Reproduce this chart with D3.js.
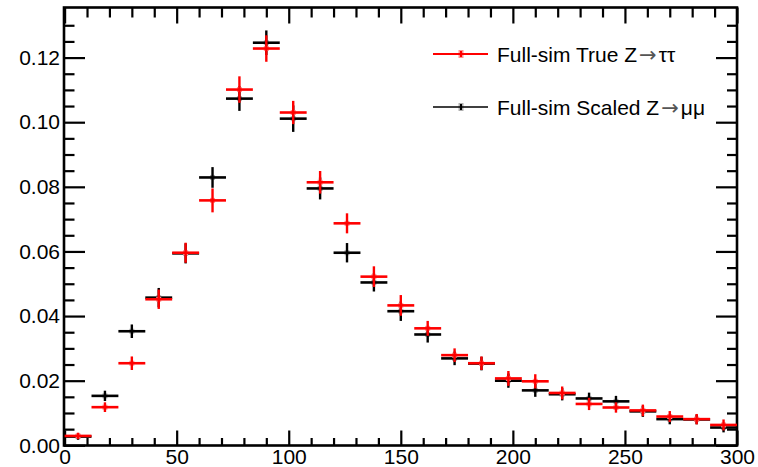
<!DOCTYPE html>
<html>
<head>
<meta charset="utf-8">
<script src="https://cdn.jsdelivr.net/npm/d3@7"></script>
<style>
  html, body { margin: 0; padding: 0; background: #fff; }
  svg { display: block; font-family: "Liberation Sans", Arial, Helvetica, sans-serif; }
</style>
</head>
<body>
<svg id="chart" width="758" height="467"></svg>
<script>
// Histogram bin edges (GeV)
const binEdges = [0, 12, 24, 36, 48, 60, 72, 84, 96, 108, 120, 132, 144, 156, 168,
                  180, 192, 204, 216, 228, 240, 252, 264, 276, 288, 300];

// Full-sim True Z->tautau (normalised)
const trueTauTau = [0.0029, 0.0118, 0.0254, 0.0452, 0.0596, 0.0758, 0.1101, 0.1228, 0.1030,
                    0.0814, 0.0687, 0.0522, 0.0433, 0.0362, 0.0279, 0.0254, 0.0207, 0.0198,
                    0.0162, 0.0128, 0.0117, 0.0108, 0.0089, 0.0081, 0.0063];
const trueTauTauErr = [0.0010, 0.0015, 0.0021, 0.0030, 0.0031, 0.0037, 0.0041, 0.0041, 0.0036,
                       0.0035, 0.0031, 0.0032, 0.0032, 0.0023, 0.0021, 0.0021, 0.0023, 0.0022,
                       0.0020, 0.0019, 0.0016, 0.0018, 0.0017, 0.0016, 0.0017];

// Full-sim Scaled Z->mumu (normalised)
const scaledMuMu = [0.0027, 0.0153, 0.0353, 0.0457, 0.0594, 0.0829, 0.1073, 0.1246, 0.1011,
                    0.0795, 0.0596, 0.0504, 0.0415, 0.0343, 0.0269, 0.0253, 0.0200, 0.0170,
                    0.0158, 0.0145, 0.0136, 0.0105, 0.0081, 0.0080, 0.0055];
const scaledMuMuErr = [0.0010, 0.0016, 0.0021, 0.0030, 0.0031, 0.0032, 0.0038, 0.0038, 0.0041,
                       0.0034, 0.0030, 0.0028, 0.0030, 0.0025, 0.0021, 0.0021, 0.0022, 0.0020,
                       0.0019, 0.0018, 0.0017, 0.0017, 0.0016, 0.0015, 0.0015];

// Axis ticks
const xMajorTicks = [0, 50, 100, 150, 200, 250, 300];
const xMinorTicks = [10, 20, 30, 40, 60, 70, 80, 90, 110, 120, 130, 140, 160, 170, 180, 190,
                     210, 220, 230, 240, 260, 270, 280, 290];
const yMajorTicks = [0, 0.02, 0.04, 0.06, 0.08, 0.10, 0.12];
const yMinorTicks = [0.005, 0.01, 0.015, 0.025, 0.03, 0.035, 0.045, 0.05, 0.055, 0.065, 0.07,
                     0.075, 0.085, 0.09, 0.095, 0.105, 0.11, 0.115, 0.125, 0.13];

// Legend entries: text before the arrow, arrow, decay products
const seriesNames = [["Full-sim True Z", "\u2192", "\u03c4\u03c4"],
                     ["Full-sim Scaled Z", "\u2192", "\u03bc\u03bc"]];
const seriesColors = ["#ff0000", "#000000"];

const svg = d3.select("#chart");

const frame = { left: 64, right: 737, top: 7.5, bottom: 445.5 };
const x = d3.scaleLinear().domain([0, 300]).range([64.6, 737]);
const y = d3.scaleLinear().domain([0, 0.1355]).range([445.3, 7.5]);

const fontSize = 21;

// --- frame and axes ---
function styleAxis(g) {
  g.select(".domain").remove();
  g.selectAll(".tick line").attr("stroke", "#000").attr("stroke-width", 2.2);
  g.selectAll(".tick text").attr("fill", "#000").attr("font-size", fontSize)
    .attr("font-family", "\"Liberation Sans\", Arial, sans-serif");
}

// bottom
svg.append("g").attr("transform", `translate(0,${frame.bottom})`)
  .call(d3.axisBottom(x).tickValues(xMajorTicks).tickSize(-15).tickPadding(4).tickFormat(d3.format("d")))
  .call(styleAxis);
svg.append("g").attr("transform", `translate(0,${frame.bottom})`)
  .call(d3.axisBottom(x).tickValues(xMinorTicks).tickSize(-7.5).tickFormat(""))
  .call(styleAxis);
// top (mirrored ticks)
svg.append("g").attr("transform", `translate(0,${frame.top})`)
  .call(d3.axisTop(x).tickValues(xMajorTicks).tickSize(-16).tickFormat(""))
  .call(styleAxis);
svg.append("g").attr("transform", `translate(0,${frame.top})`)
  .call(d3.axisTop(x).tickValues(xMinorTicks).tickSize(-10).tickFormat(""))
  .call(styleAxis);
// left
svg.append("g").attr("transform", `translate(${frame.left},0)`)
  .call(d3.axisLeft(y).tickValues(yMajorTicks).tickSize(-21).tickPadding(4).tickFormat(d3.format(".2f")))
  .call(styleAxis);
svg.append("g").attr("transform", `translate(${frame.left},0)`)
  .call(d3.axisLeft(y).tickValues(yMinorTicks).tickSize(-10.5).tickFormat(""))
  .call(styleAxis);
// right (mirrored ticks)
svg.append("g").attr("transform", `translate(${frame.right},0)`)
  .call(d3.axisRight(y).tickValues(yMajorTicks).tickSize(-21).tickFormat(""))
  .call(styleAxis);
svg.append("g").attr("transform", `translate(${frame.right},0)`)
  .call(d3.axisRight(y).tickValues(yMinorTicks).tickSize(-10).tickFormat(""))
  .call(styleAxis);

svg.append("rect")
  .attr("x", frame.left).attr("y", frame.top)
  .attr("width", frame.right - frame.left).attr("height", frame.bottom - frame.top)
  .attr("fill", "none").attr("stroke", "#000").attr("stroke-width", 2.6);

// --- histogram points with error bars ---
function drawSeries(values, errors, color, markerFill) {
  const bins = values.map((v, i) => ({
    lo: binEdges[i], hi: binEdges[i + 1], mid: (binEdges[i] + binEdges[i + 1]) / 2, v, e: errors[i]
  }));
  const g = svg.append("g");
  g.selectAll("rect.marker").data(bins).join("rect")
    .attr("class", "marker")
    .attr("x", d => x(d.mid) - 2.5).attr("y", d => y(d.v) - 2.5)
    .attr("width", 5).attr("height", 5)
    .attr("fill", markerFill);
  g.selectAll("line.xerr").data(bins).join("line")
    .attr("class", "xerr")
    .attr("x1", d => x(d.lo)).attr("x2", d => x(d.hi))
    .attr("y1", d => y(d.v)).attr("y2", d => y(d.v))
    .attr("stroke", color).attr("stroke-width", 2.6);
  g.selectAll("line.yerr").data(bins).join("line")
    .attr("class", "yerr")
    .attr("x1", d => x(d.mid)).attr("x2", d => x(d.mid))
    .attr("y1", d => y(Math.max(0, d.v - d.e))).attr("y2", d => y(d.v + d.e))
    .attr("stroke", color).attr("stroke-width", 2.4);
}

drawSeries(scaledMuMu, scaledMuMuErr, seriesColors[1], "#b0b0b0");
drawSeries(trueTauTau, trueTauTauErr, seriesColors[0], "#ff9090");

// --- legend ---
const legendRows = [
  { name: seriesNames[0], color: seriesColors[0], width: 2.2, y: 54, fill: "#ff9090" },
  { name: seriesNames[1], color: seriesColors[1], width: 1.4, y: 107, fill: "#b0b0b0" }
];
const lg = svg.append("g");
legendRows.forEach(r => {
  lg.append("rect").attr("x", 458.5).attr("y", r.y - 4).attr("width", 5).attr("height", 8).attr("fill", r.fill);
  lg.append("line").attr("x1", 433).attr("x2", 488).attr("y1", r.y).attr("y2", r.y)
    .attr("stroke", r.color).attr("stroke-width", r.width);
  lg.append("line").attr("x1", 461).attr("x2", 461).attr("y1", r.y - 3).attr("y2", r.y + 3)
    .attr("stroke", r.color).attr("stroke-width", 2);
  const t = lg.append("text").attr("x", 497).attr("y", r.y).attr("dy", "0.36em")
    .attr("font-size", fontSize).attr("fill", "#000");
  t.append("tspan").text(r.name[0]);
  t.append("tspan").attr("font-family", "\"DejaVu Sans\", sans-serif").attr("font-size", 21)
    .attr("fill", "#555").attr("dx", 2).text(r.name[1]);
  t.append("tspan").attr("dx", 2).text(r.name[2]);
});
</script>
</body>
</html>
